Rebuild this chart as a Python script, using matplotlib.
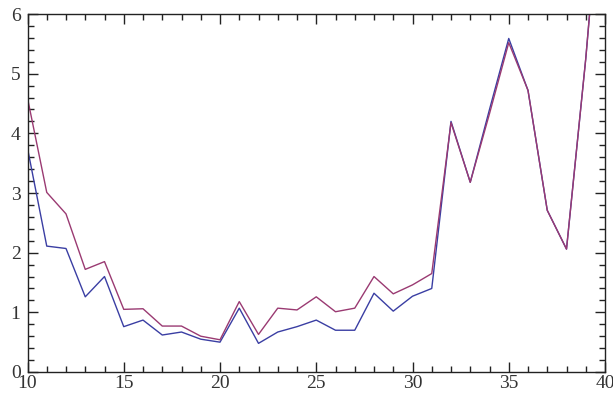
import matplotlib
matplotlib.use("Agg")
import matplotlib.pyplot as plt
from matplotlib.ticker import MultipleLocator

x = list(range(10, 41))
blue = [3.75, 2.11, 2.07, 1.26, 1.60, 0.76, 0.87, 0.62, 0.67, 0.55, 0.50,
        1.07, 0.48, 0.67, 0.76, 0.87, 0.70, 0.70, 1.32, 1.02, 1.27, 1.40,
        4.20, 3.18, 4.40, 5.59, 4.72, 2.71, 2.06, 5.25, 9.0]
purple = [4.59, 3.01, 2.65, 1.72, 1.85, 1.05, 1.06, 0.77, 0.77, 0.60, 0.54,
          1.18, 0.63, 1.07, 1.04, 1.26, 1.01, 1.07, 1.60, 1.31, 1.46, 1.65,
          4.18, 3.18, 4.33, 5.52, 4.72, 2.71, 2.06, 5.25, 9.0]

plt.rcParams['font.family'] = ['Liberation Serif', 'DejaVu Serif']

fig = plt.figure(figsize=(6.13, 3.95), dpi=100)
ax = fig.add_axes([27.5/613, 1 - 372/395, (605 - 27.5)/613, (372 - 14)/395])

ax.plot(x, blue, color='#3a3ea3', lw=1.0)
ax.plot(x, purple, color='#9a3a72', lw=1.0)

ax.set_xlim(10, 40)
ax.set_ylim(0, 6)
ax.xaxis.set_major_locator(MultipleLocator(5))
ax.xaxis.set_minor_locator(MultipleLocator(1))
ax.yaxis.set_major_locator(MultipleLocator(1))
ax.yaxis.set_minor_locator(MultipleLocator(0.2))

for s in ax.spines.values():
    s.set_linewidth(1.0)
    s.set_color('#222222')

ax.tick_params(which='both', direction='in', top=True, right=True,
               color='#222222', width=1.0, labelsize=14, labelcolor='#333333')
ax.tick_params(which='major', length=7)
ax.tick_params(which='minor', length=4)
ax.tick_params(axis='x', pad=2)
ax.tick_params(axis='y', pad=5)

fig.savefig('out.png', dpi=100)
